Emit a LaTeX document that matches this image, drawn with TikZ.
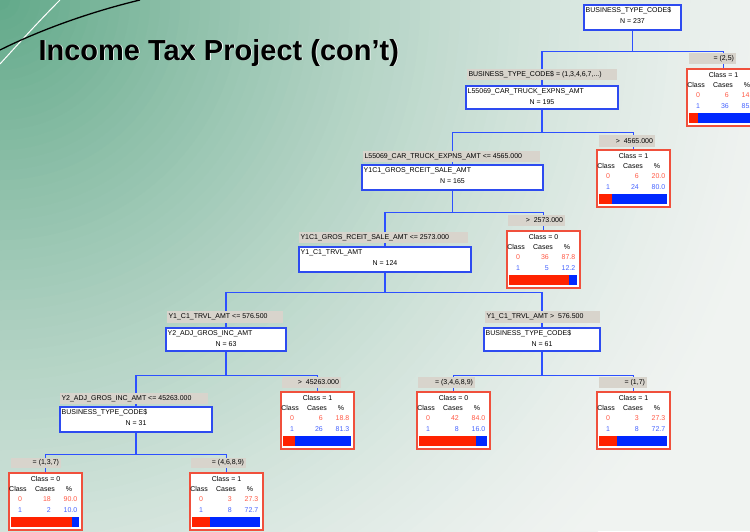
\documentclass[tikz,border=0pt]{standalone}
\usepackage{fontspec}
\setmainfont{Liberation Sans}
\definecolor{bgg}{RGB}{96,168,136}
\definecolor{bgw}{RGB}{240,243,241}
\definecolor{nodeblue}{RGB}{45,75,240}
\definecolor{linkblue}{RGB}{45,80,255}
\definecolor{leafred}{RGB}{240,80,60}
\definecolor{redtxt}{RGB}{255,90,70}
\definecolor{bluetxt}{RGB}{70,100,255}
\definecolor{barred}{RGB}{255,34,0}
\definecolor{barblue}{RGB}{0,40,255}
\definecolor{lblgray}{RGB}{216,212,204}
\pgfdeclarelayer{back}\pgfdeclarelayer{mid}\pgfsetlayers{back,mid,main}
\newcommand\fs{\fontsize{7}{8}\selectfont}
\tikzset{
  conn/.style={draw=linkblue, line width=1.3pt},
  nodebox/.style={draw=nodeblue, line width=1.2pt, fill=white, inner sep=0pt},
  leafbox/.style={draw=leafred, line width=1.4pt, fill=white, inner sep=0pt},
  lbl/.style={fill=lblgray, draw=none, inner sep=0pt},
  txt/.style={font=\fs, inner sep=0pt},
}
\newcommand\TreeNode[7]{%
  \node[nodebox, minimum width=#4pt, minimum height=#5pt] (#1) at ({#2+#4/2},{#3+#5/2}) {};
  \node[txt, anchor=west] (#1-a) at ({#2+1.5},{#3+5.5}) {#6};
  \node[txt] (#1-b) at ({#2+#4/2},{#3+16}) {#7};
}
\newcommand\GLabel[8]{%
  \node[lbl, minimum width=#4pt, minimum height=#5pt] (#1) at ({#2+#4/2},{#3+#5/2}) {};
  \node[txt, anchor=#6] (#1-t) at ([xshift=#7pt]#1.#6) {#8};
}
\newcommand\TreeLeaf[9]{%
  \node[leafbox, minimum width=73pt, minimum height=57pt] (#1) at ({#2+36.5},{#3+28.5}) {};
  \node[txt] (#1-c) at ({#2+36.5},{#3+5.5}) {Class = #4};
  \node[txt] (#1-h1) at ({#2+9},{#3+16}) {Class};
  \node[txt] (#1-h2) at ({#2+36},{#3+16}) {Cases};
  \node[txt] (#1-h3) at ({#2+60},{#3+16}) {\%};
  \node[txt, text=redtxt] (#1-r0) at ({#2+11},{#3+26.5}) {0};
  \node[txt, text=redtxt, anchor=east] (#1-r1) at ({#2+42},{#3+26.5}) {#5};
  \node[txt, text=redtxt, anchor=east] (#1-r2) at ({#2+68.5},{#3+26.5}) {#7};
  \node[txt, text=bluetxt] (#1-s0) at ({#2+11},{#3+37}) {1};
  \node[txt, text=bluetxt, anchor=east] (#1-s1) at ({#2+42},{#3+37}) {#6};
  \node[txt, text=bluetxt, anchor=east] (#1-s2) at ({#2+68.5},{#3+37}) {#8};
  \fill[barred] ({#2+1.5},{#3+44}) rectangle ({#2+1.5+68.5*#9},{#3+54});
  \fill[barblue] ({#2+1.5+68.5*#9},{#3+44}) rectangle ({#2+70},{#3+54});
}
\begin{document}
\begin{tikzpicture}[x=1pt,y=-1pt]
\useasboundingbox (0,0) rectangle (750,531);
\begin{pgfonlayer}{back}
  \fill[bgw] (0,0) rectangle (750,531);
  \begin{scope}
    \clip (0,0) rectangle (750,531);
    \foreach \bgi in {0,...,79}{
      \pgfmathsetmacro\bgr{(80-\bgi)*10}
      \pgfmathsetmacro\bgp{100*(1-\bgr/800)^1.4}
      \colorlet{tmpc}{bgg!\bgp!bgw}
      \fill[tmpc] (0,0) circle[radius=\bgr pt];
    }
  \end{scope}
  \draw[white, line width=1pt] (0,64) .. controls (20,42) and (40,20) .. (60,0);
  \draw[black, line width=1.3pt] (0,50) .. controls (40,30) and (90,12) .. (140,0);
\end{pgfonlayer}

% title
\node[font=\fontsize{29}{34}\selectfont\bfseries, text=white, anchor=base west] (titleshadow) at (35.8,60.8) {Income Tax Project (con’t)};
\node[font=\fontsize{29}{34}\selectfont\bfseries, text=black, anchor=base west] (title) at (35,60) {Income Tax Project (con’t)};

% labels
\GLabel{la1}{467}{69}{150}{11}{west}{1.5}{BUSINESS\_TYPE\_CODE\$ = (1,3,4,6,7,...)}
\GLabel{lb1}{689}{53}{47}{11}{east}{-2}{= (2,5)}
\GLabel{la2}{363}{151}{177}{11}{west}{1.5}{L55069\_CAR\_TRUCK\_EXPNS\_AMT <= 4565.000}
\GLabel{lb2}{599}{135}{56}{12}{east}{-2}{>\ \ 4565.000}
\GLabel{la3}{299}{232}{169}{11}{west}{1.5}{Y1C1\_GROS\_RCEIT\_SALE\_AMT <= 2573.000}
\GLabel{lb3}{508}{215}{57}{11}{east}{-2}{>\ \ 2573.000}
\GLabel{la4}{167}{311}{116}{12}{west}{1.5}{Y1\_C1\_TRVL\_AMT <= 576.500}
\GLabel{lb4}{485}{311}{115}{12}{west}{1.5}{Y1\_C1\_TRVL\_AMT >\ \ 576.500}
\GLabel{la5}{60}{393}{148}{11}{west}{1.5}{Y2\_ADJ\_GROS\_INC\_AMT <= 45263.000}
\GLabel{lb5}{282}{377}{59}{11}{east}{-2}{>\ \ 45263.000}
\GLabel{la6}{418}{377}{57}{11}{east}{-2}{= (3,4,6,8,9)}
\GLabel{lb6}{599}{377}{48}{11}{east}{-2}{= (1,7)}
\GLabel{la7}{11}{458}{50}{10}{east}{-2}{= (1,3,7)}
\GLabel{lb7}{191}{458}{55}{10}{east}{-2}{= (4,6,8,9)}

% tree nodes
\TreeNode{root}{584}{5}{97}{25}{BUSINESS\_TYPE\_CODE\$}{N = 237}
\TreeNode{n1}{466}{86}{152}{23}{L55069\_CAR\_TRUCK\_EXPNS\_AMT}{N = 195}
\TreeNode{n2}{362}{165}{181}{25}{Y1C1\_GROS\_RCEIT\_SALE\_AMT}{N = 165}
\TreeNode{n3}{299}{247}{172}{25}{Y1\_C1\_TRVL\_AMT}{N = 124}
\TreeNode{n4}{166}{328}{120}{23}{Y2\_ADJ\_GROS\_INC\_AMT}{N = 63}
\TreeNode{n5}{484}{328}{116}{23}{BUSINESS\_TYPE\_CODE\$}{N = 61}
\TreeNode{n6}{60}{407}{152}{25}{BUSINESS\_TYPE\_CODE\$}{N = 31}

% leaves
\TreeLeaf{L1}{687}{69}{1}{6}{36}{14.3}{85.7}{0.143}
\TreeLeaf{L2}{597}{150}{1}{6}{24}{20.0}{80.0}{0.2}
\TreeLeaf{L3}{507}{231}{0}{36}{5}{87.8}{12.2}{0.878}
\TreeLeaf{L4}{281}{392}{1}{6}{26}{18.8}{81.3}{0.188}
\TreeLeaf{L5}{417}{392}{0}{42}{8}{84.0}{16.0}{0.84}
\TreeLeaf{L6}{597}{392}{1}{3}{8}{27.3}{72.7}{0.273}
\TreeLeaf{L7}{9}{473}{0}{18}{2}{90.0}{10.0}{0.9}
\TreeLeaf{L8}{190}{473}{1}{3}{8}{27.3}{72.7}{0.273}

% connectors
\begin{pgfonlayer}{mid}
  \draw[conn] (root.south) -- ++(0,21) coordinate (j0);
  \draw[conn] (n1.north) |- (j0) -| (L1.north);
  \draw[conn] (n1.south) -- ++(0,23) coordinate (j1);
  \draw[conn] (n2.north) |- (j1) -| (L2.north);
  \draw[conn] (n2.south) -- ++(0,22) coordinate (j2);
  \draw[conn] (n3.north) |- (j2) -| (L3.north);
  \draw[conn] (n3.south) -- ++(0,20) coordinate (j3);
  \draw[conn] (n4.north) |- (j3) -| (n5.north);
  \draw[conn] (n4.south) -- ++(0,24) coordinate (j4);
  \draw[conn] (n6.north) |- (j4) -| (L4.north);
  \draw[conn] (n5.south) -- ++(0,24) coordinate (j5);
  \draw[conn] (L5.north) |- (j5) -| (L6.north);
  \draw[conn] (n6.south) -- ++(0,22) coordinate (j6);
  \draw[conn] (L7.north) |- (j6) -| (L8.north);
\end{pgfonlayer}
\end{tikzpicture}
\end{document}
